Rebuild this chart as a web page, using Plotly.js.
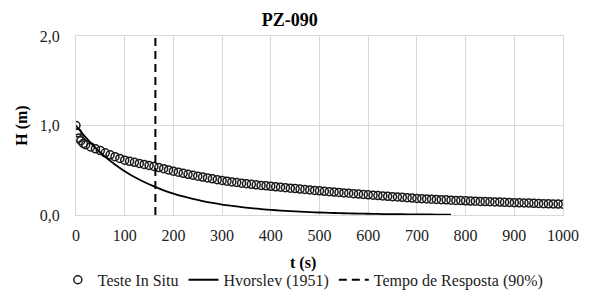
<!DOCTYPE html>
<html>
<head>
<meta charset="utf-8">
<script src="https://cdn.plot.ly/plotly-3.0.1.min.js"></script>
<style>html,body{margin:0;padding:0;background:#fff;}#chart{width:589px;height:290px;}</style>
</head>
<body>
<div id="chart"></div>
<script>
// Teste In Situ (t in s, H in m)
const tInSitu = [0,3,6,10,15,20,30,40,50,60,70,80,90,100,110,120,130,140,150,160,170,180,190,200,210,220,230,240,250,260,270,280,290,300,310,320,330,340,350,360,370,380,390,400,410,420,430,440,450,460,470,480,490,500,510,520,530,540,550,560,570,580,590,600,610,620,630,640,650,660,670,680,690,700,710,720,730,740,750,760,770,780,790,800,810,820,830,840,850,860,870,880,890,900,910,920,930,940,950,960,970,980,990,1000];
const hInSitu = [1.00,0.92,0.86,0.83,0.80,0.785,0.76,0.74,0.72,0.695,0.672,0.652,0.632,0.612,0.600,0.588,0.576,0.565,0.554,0.543,0.530,0.517,0.504,0.490,0.478,0.466,0.455,0.444,0.434,0.424,0.414,0.404,0.395,0.386,0.378,0.370,0.363,0.356,0.349,0.343,0.337,0.331,0.326,0.320,0.315,0.310,0.305,0.300,0.295,0.290,0.285,0.280,0.275,0.270,0.265,0.261,0.256,0.252,0.247,0.243,0.238,0.234,0.229,0.225,0.221,0.217,0.213,0.209,0.205,0.201,0.197,0.193,0.189,0.185,0.182,0.179,0.177,0.174,0.171,0.169,0.166,0.163,0.161,0.158,0.156,0.154,0.152,0.150,0.148,0.146,0.144,0.142,0.140,0.138,0.136,0.134,0.133,0.131,0.129,0.127,0.125,0.124,0.122,0.120];
// Hvorslev (1951)
const tHvorslev = [0,20,40,60,80,100,120,140,160,180,200,220,240,260,280,300,320,340,360,380,400,420,440,460,480,500,520,540,560,580,600,620,640,660,680,700,720,740,770];
const hHvorslev = [1.000,0.867,0.751,0.651,0.565,0.490,0.424,0.368,0.319,0.276,0.240,0.208,0.180,0.156,0.135,0.117,0.102,0.088,0.076,0.066,0.057,0.050,0.043,0.037,0.032,0.028,0.024,0.021,0.018,0.016,0.014,0.012,0.010,0.009,0.008,0.007,0.006,0.005,0.004];
// Tempo de Resposta (90%)
const tResposta = [163,163];
const hResposta = [0,2];
const xTicks = [0,100,200,300,400,500,600,700,800,900,1000];
const yTicks = [0,1,2];

const serif = 'Liberation Serif';
const traces = [
  {x:tInSitu, y:hInSitu, name:'Teste In Situ', type:'scatter', mode:'markers',
   marker:{symbol:'circle-open', size:8, color:'#1a1a1a', line:{width:1.5, color:'#1a1a1a'}}},
  {x:tHvorslev, y:hHvorslev, name:'Hvorslev (1951)', type:'scatter', mode:'lines',
   line:{color:'#000', width:1.8, shape:'spline'}},
  {x:tResposta, y:hResposta, name:'Tempo de Resposta (90%)', type:'scatter', mode:'lines',
   line:{color:'#000', width:2, dash:'8px,5px'}}
];
const layout = {
  width:589, height:290,
  margin:{l:76, r:26, t:36, b:75, autoexpand:false},
  paper_bgcolor:'#fff', plot_bgcolor:'#fff',
  separators:',.',
  font:{family:serif, size:16, color:'#222'},
  title:{text:'<b>PZ-090</b>', x:0.492, xanchor:'center', xref:'container', y:0.931, yanchor:'middle', yref:'container',
         font:{family:serif, size:18, color:'#000'}},
  xaxis:{range:[0,1000], tickvals:xTicks, tickformat:'d', showgrid:true, gridcolor:'#d9d9d9', gridwidth:1,
         zeroline:false, showline:true, linecolor:'#d9d9d9', mirror:true, ticks:'', ticklabelstandoff:6,
         tickfont:{family:serif, size:16, color:'#222'}},
  yaxis:{range:[0,2], tickvals:yTicks, tickformat:'.1f', showgrid:true, gridcolor:'#d9d9d9', gridwidth:1,
         zeroline:false, showline:true, linecolor:'#d9d9d9', mirror:true, ticks:'', ticklabelstandoff:12,
         tickfont:{family:serif, size:16, color:'#222'},
         title:{text:'<b>H (m)</b>', standoff:8, font:{family:serif, size:16, color:'#000'}}},
  annotations:[{text:'<b>t (s)</b>', xref:'paper', yref:'paper', x:0.466, y:-0.268, xanchor:'center', yanchor:'middle',
                showarrow:false, font:{family:serif, size:16, color:'#000'}}],
  showlegend:true,
  legend:{orientation:'h', x:0.515, xanchor:'center', xref:'container', y:0.035, yanchor:'middle', yref:'container',
          font:{family:serif, size:16, color:'#222'}, tracegroupgap:0, bgcolor:'rgba(0,0,0,0)'}
};
Plotly.newPlot('chart', traces, layout, {displayModeBar:false, staticPlot:true});
</script>
</body>
</html>
